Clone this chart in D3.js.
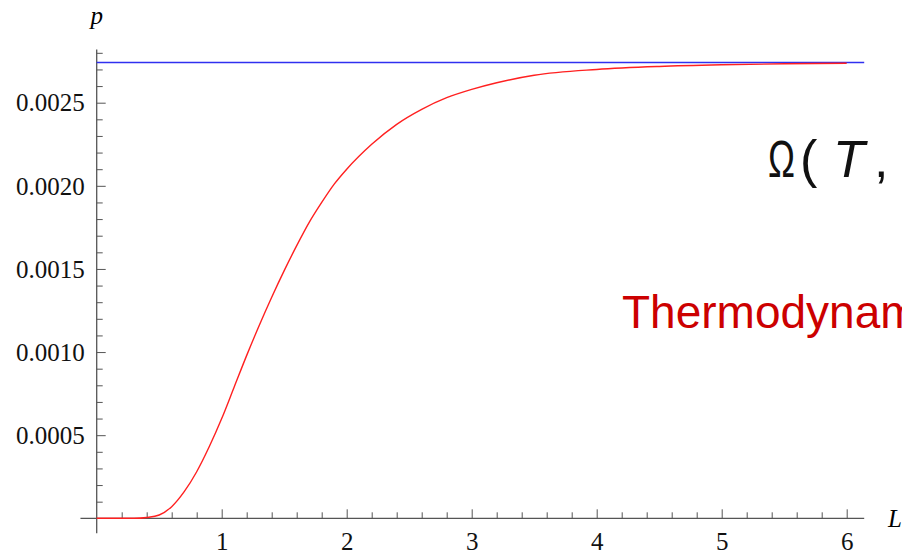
<!DOCTYPE html>
<html>
<head>
<meta charset="utf-8">
<script src="https://cdn.jsdelivr.net/npm/d3@7"></script>
<style>
  html, body { margin: 0; padding: 0; background: #fff; overflow: hidden; }
  svg { display: block; }
  .tick text { font-family: "Liberation Serif", serif; font-size: 25px; fill: #111; }
  .tick line { stroke: #555; }
</style>
</head>
<body>
<div id="chart"></div>
<script>
// ----- Data -----
const lengths = [0, 0.3, 0.4, 0.5, 0.6, 0.7, 0.8, 0.9, 1.0, 1.1, 1.2, 1.3, 1.4, 1.5,
  1.6, 1.7, 1.8, 1.9, 2.0, 2.2, 2.4, 2.6, 2.8, 3.0, 3.2, 3.5, 4.0, 4.5, 5.0, 5.5, 6.0];
const pressure = [0, 0, 0.000005, 0.00002, 0.00007, 0.00016, 0.00028, 0.00043, 0.0006,
  0.00079, 0.00098, 0.00116, 0.00133, 0.00149, 0.00164, 0.00178, 0.00190, 0.00201,
  0.00210, 0.00225, 0.00237, 0.00246, 0.00253, 0.00258, 0.00262, 0.002665, 0.0027,
  0.002718, 0.002728, 0.002734, 0.002737];
const limitValue = 0.002742;

const xMajor = [1, 2, 3, 4, 5, 6];
const yMajor = [0.0005, 0.0010, 0.0015, 0.0020, 0.0025];

// ----- Config -----
const width = 902;
const height = 553;

const x = d3.scaleLinear().domain([0, 6]).range([96.7, 846.7]);
const y = d3.scaleLinear().domain([0, 0.0025]).range([518.3, 102.7]);

const xExtent = [-0.13, 6.14];
const yExtent = [-0.00009, 0.00282];

// minor ticks: every 0.2 on x, every 0.0001 on y, skipping the majors
const xMinor = d3.range(1, 31).map(i => i / 5).filter(v => Math.abs(v - Math.round(v)) > 1e-6);
const yMinor = d3.range(1, 29).map(i => i / 10000).filter(v => Math.abs(v * 2000 - Math.round(v * 2000)) > 1e-6);

const svg = d3.select("#chart")
  .append("svg")
  .attr("width", width)
  .attr("height", height);

// ----- Axes -----
const axisColor = "#555";

svg.append("line")
  .attr("x1", x(xExtent[0])).attr("x2", x(xExtent[1]))
  .attr("y1", y(0)).attr("y2", y(0))
  .attr("stroke", axisColor).attr("stroke-width", 1.3);

svg.append("line")
  .attr("x1", x(0)).attr("x2", x(0))
  .attr("y1", y(yExtent[0])).attr("y2", y(yExtent[1]))
  .attr("stroke", axisColor).attr("stroke-width", 1.3);

// x ticks point up into the plot
svg.append("g")
  .attr("transform", `translate(0,${y(0)})`)
  .call(d3.axisBottom(x).tickValues(xMinor).tickSize(-6).tickFormat(""))
  .call(g => g.select(".domain").remove());

svg.append("g")
  .attr("transform", `translate(0,${y(0)})`)
  .call(d3.axisBottom(x).tickValues(xMajor).tickSize(-9).tickFormat(d3.format("d")))
  .call(g => g.select(".domain").remove())
  .call(g => g.selectAll("text").attr("dy", null).attr("y", 32));

// y ticks point right into the plot
svg.append("g")
  .attr("transform", `translate(${x(0)},0)`)
  .call(d3.axisLeft(y).tickValues(yMinor).tickSize(-6).tickFormat(""))
  .call(g => g.select(".domain").remove());

svg.append("g")
  .attr("transform", `translate(${x(0)},0)`)
  .call(d3.axisLeft(y).tickValues(yMajor).tickSize(-9).tickFormat(d3.format(".4f")))
  .call(g => g.select(".domain").remove())
  .call(g => g.selectAll("text").attr("x", -12).attr("dy", "0.33em"));

// axis labels
svg.append("text")
  .attr("x", x(0)).attr("y", 24)
  .attr("text-anchor", "middle")
  .style("font-family", "Liberation Serif, serif")
  .style("font-style", "italic")
  .style("font-size", "25px")
  .text("p");

svg.append("text")
  .attr("x", x(6.33)).attr("y", y(0) + 9)
  .style("font-family", "Liberation Serif, serif")
  .style("font-style", "italic")
  .style("font-size", "25px")
  .text("L");

// ----- Lines -----
svg.append("line")
  .attr("x1", x(0)).attr("x2", x(xExtent[1]))
  .attr("y1", y(limitValue)).attr("y2", y(limitValue))
  .attr("stroke", "#3030f0")
  .attr("stroke-width", 1.4);

const line = d3.line()
  .x((d, i) => x(lengths[i]))
  .y(d => y(d))
  .curve(d3.curveMonotoneX);

svg.append("path")
  .datum(pressure)
  .attr("fill", "none")
  .attr("stroke", "#ff2020")
  .attr("stroke-width", 1.4)
  .attr("d", line);

// ----- Slide overlay text -----
const omega = svg.append("text")
  .attr("y", 177)
  .style("font-family", "Liberation Sans, sans-serif")
  .style("font-size", "52px")
  .attr("fill", "#111");
omega.append("tspan").attr("x", 768).attr("textLength", 27).attr("lengthAdjust", "spacingAndGlyphs").text("Ω");
omega.append("tspan").attr("x", 800).text("(");
omega.append("tspan").attr("x", 833).style("font-style", "italic").text("T");
omega.append("tspan").attr("x", 874).text(",");

svg.append("text")
  .attr("x", 622)
  .attr("y", 328)
  .style("font-family", "Liberation Sans, sans-serif")
  .style("font-size", "46px")
  .attr("fill", "#cc0000")
  .text("Thermodynamic");
</script>
</body>
</html>
